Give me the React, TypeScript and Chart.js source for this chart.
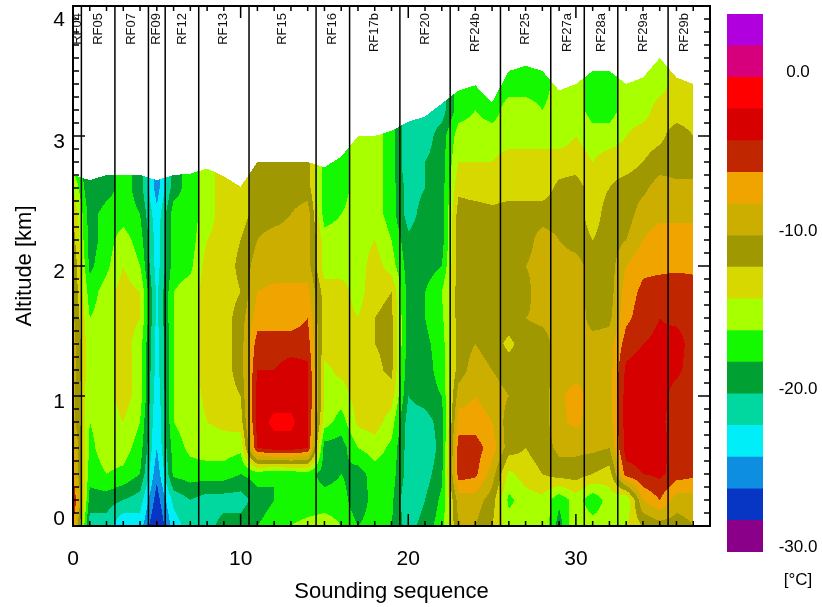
import React, { useEffect, useRef } from "react";
import { Chart, registerables } from "chart.js";
Chart.register(...registerables);

// ---------- data ----------
const soundings = [0, 1, 2, 3, 4, 5, 6, 7, 8, 9, 10, 11, 12, 13, 14, 15, 16, 17, 18, 19, 20, 21, 22, 23, 24, 25, 26, 27, 28, 29, 30, 31, 32, 33, 34, 35, 36, 37];
const altitudes = [0, 0.2, 0.4, 0.6, 0.8, 1.0, 1.2, 1.4, 1.6, 1.8, 2.0, 2.2, 2.4, 2.6, 2.8, 3.0, 3.2, 3.4, 3.6];
// top of each sounding (km)
const dataTopKm = [2.7, 2.66, 2.7, 2.7, 2.7, 2.66, 2.7, 2.71, 2.75, 2.69, 2.61, 2.8, 2.8, 2.8, 2.8, 2.76, 2.84, 3.0, 3.0, 3.04, 3.11, 3.15, 3.25, 3.35, 3.39, 3.26, 3.5, 3.54, 3.5, 3.35, 3.4, 3.5, 3.5, 3.4, 3.45, 3.6, 3.45, 3.4];
// temperature (°C) per sounding, from 0 km upward every 0.2 km
const tempProfiles: number[][] = [
  [-6, -3, -7, -7, -9, -9, -9, -9, -9.5, -10, -10, -11, -12, -14, -17],
  [-21, -19, -17, -16.5, -16, -16, -15.5, -15.5, -16, -17, -18.5, -19, -19, -20, -20],
  [-21, -19, -16, -15, -15, -15, -15, -15, -15, -15, -16.5, -17, -17, -19, -19],
  [-24, -20, -16.5, -15, -14, -13, -13, -13, -13, -13, -14, -15, -17, -17, -17],
  [-23, -21, -18, -17, -16, -15, -15, -15, -14, -14, -16, -17, -18, -19, -19],
  [-28.5, -27, -25.5, -24, -24, -23.5, -23, -23, -22.5, -22.5, -23, -23, -23.5, -25, -25],
  [-23, -21.5, -17.5, -17, -16, -16, -16, -16, -16, -16, -17, -17, -17, -19, -19],
  [-21, -20, -17, -15.5, -15, -15, -15, -15, -15, -15, -16.5, -17, -17, -17, -17],
  [-21, -21, -17, -15, -14, -13.5, -13, -13, -13, -13, -13, -14, -15, -15, -15],
  [-19, -21, -17, -15, -13.5, -13, -13, -13, -13, -13, -13, -13, -13, -13, -13],
  [-19, -21, -18, -15.5, -13, -12, -11, -11, -11, -12, -11.5, -12, -13, -13, -13],
  [-18, -19, -17, -4, -3, -3, -4, -5, -7, -8, -9, -10, -11, -11, -11],
  [-17, -18, -18, -3, -1.5, -3, -4, -5, -7, -7.5, -9, -9, -11, -11, -11],
  [-16, -17, -17.5, -3, -1.5, -3, -3, -5, -7, -7.5, -9, -9, -10, -11, -11],
  [-15.5, -17, -17, -4, -3.5, -3.5, -3.5, -5, -6, -7.5, -9, -9, -9, -11, -11],
  [-15, -17, -19, -19, -15, -14, -14.5, -13, -13, -13, -15, -15, -17, -17, -17],
  [-16, -17, -18, -19, -17, -15, -13.5, -13, -13, -13, -15, -15, -16, -17, -17, -17],
  [-18, -19.5, -19, -16, -13.5, -13, -13, -13, -14, -15, -15, -15, -15, -15, -15, -15],
  [-17, -17, -17, -15, -13, -13, -12.5, -12, -12, -12.5, -13, -14, -15, -15, -15, -15],
  [-18, -17.5, -17, -16.5, -15, -13, -11.5, -11.5, -11.5, -12, -15, -16, -17, -17, -17, -17, -17],
  [-21, -22, -21, -21, -21, -20, -19.5, -19, -19, -19, -19, -19.5, -21, -21, -22, -22, -21],
  [-19, -20, -21, -22, -21, -19, -19, -18.5, -18, -18, -19, -19, -19, -20, -20, -21, -21],
  [-17, -17.5, -18.5, -19, -19, -18, -17, -17, -16.5, -16, -18, -19, -19, -19, -19, -19, -21, -21],
  [-10, -9, -5, -5, -7, -9, -11, -11, -11, -11, -11, -11, -11, -12.5, -14, -15, -17, -17],
  [-10, -9, -5.5, -5, -7, -8, -9, -10, -11, -11, -10, -11, -11, -13, -14, -15, -16, -17],
  [-12, -11, -9, -7, -8, -9, -10, -11, -11, -11, -10.5, -11, -11.5, -13, -14, -15, -17, -17],
  [-15, -16.5, -14.5, -11, -11, -10, -11, -12.5, -11, -11, -11, -11, -11, -13, -13, -15, -15, -17, -17],
  [-15, -15, -13, -12, -11, -11, -11, -11, -10, -11, -10, -11, -11, -13, -13, -15, -15, -17, -17],
  [-14, -14.5, -12, -11, -11, -11, -11, -11, -9.5, -8, -9, -9, -11, -13, -13, -15, -16, -17, -17],
  [-19, -17.5, -11, -9.5, -8.5, -8.5, -9, -9, -9, -9, -9, -10, -11, -11.5, -13, -15, -15, -15],
  [-14, -15, -11, -9.5, -7.5, -7, -9, -9, -8.5, -9, -9, -11, -11, -11, -13, -14, -15, -15],
  [-15, -17.5, -12, -9.5, -9, -9, -9, -9, -11, -11, -11, -12, -13, -13, -14, -15, -17, -17, -17],
  [-15, -15, -13, -10, -9, -9, -9, -9, -10.5, -11, -11, -11, -11, -12, -13, -15, -17, -17, -17],
  [-14, -16, -5, -3, -3, -3, -3.5, -5, -6.5, -7, -8, -10, -11, -11, -13, -14, -15, -15],
  [-12, -8, -4, -3, -3, -3, -3, -4, -5, -5.5, -6.5, -8, -9, -10.5, -12, -13, -15, -15, -15],
  [-11, -6, -3.5, -3, -3.5, -3, -3, -3.5, -4, -5, -6.5, -7, -8.5, -9, -11, -12.5, -13, -15, -15],
  [-11, -9, -5, -5, -5, -5, -3.5, -3, -4.5, -4.5, -6.5, -7, -8.5, -9.5, -11, -11, -13, -13, -13],
  [-10, -9, -5.5, -5, -5, -5, -5, -5, -5, -5, -6.5, -7, -8.5, -9.5, -11, -12, -13, -14, -14],
];
const flightNames = ["RF04", "RF05", "RF07", "RF09", "RF12", "RF13", "RF15", "RF16", "RF17b", "RF20", "RF24b", "RF25", "RF27a", "RF28a", "RF29a", "RF29b"];
const flightEdges = [0, 0.5, 2.5, 4.5, 5.5, 7.5, 10.5, 14.5, 16.5, 19.5, 22.5, 25.5, 28.5, 30.5, 32.5, 35.5, 37.5];
const xTicks = [0, 10, 20, 30];
const yTicks = [0, 1, 2, 3, 4];
const xRange = [0, 38];
const bandEdges = [-30, -28, -26, -24, -22, -20, -18, -16, -14, -12, -10, -8, -6, -4, -2, 0, 2, 4];
const bandColors = ["#8a0088", "#0836c4", "#0e8ee0", "#00eef8", "#00d8a0", "#00a032", "#14f800", "#a8ff00", "#d6d800", "#a09800", "#ccae00", "#f0a400", "#c02600", "#d60000", "#ff0000", "#d6007c", "#b000de"];
const colorbarLabels = [0, -10, -20, -30];
const colorbarUnit = "[°C]";
const xTitle = "Sounding sequence";
const yTitle = "Altitude [km]";

const FONT = '"Liberation Sans", Arial, Helvetica, sans-serif';

function hexToRgb(h: string) {
  const n = parseInt(h.slice(1), 16);
  return [(n >> 16) & 255, (n >> 8) & 255, n & 255];
}

function profileValue(i: number, j: number) {
  const p = tempProfiles[i];
  return p[Math.min(j, p.length - 1)];
}

const heatmapPlugin = {
  id: "heatmap",
  beforeDatasetsDraw(chart: any) {
    const ctx = chart.ctx;
    const xs = chart.scales.x;
    const ys = chart.scales.y;
    const left = Math.floor(xs.getPixelForValue(soundings[0]));
    const right = Math.ceil(xs.getPixelForValue(soundings[soundings.length - 1]));
    const top = Math.floor(ys.getPixelForValue(Math.max(...dataTopKm)));
    const bottom = Math.ceil(ys.getPixelForValue(altitudes[0]));
    const w = right - left;
    const h = bottom - top;
    const off = document.createElement("canvas");
    off.width = w;
    off.height = h;
    const octx = off.getContext("2d")!;
    const img = octx.createImageData(w, h);
    const rgb = bandColors.map(hexToRgb);
    const colI: number[] = [], colF: number[] = [], colTop: number[] = [], colOk: boolean[] = [];
    for (let px = 0; px < w; px++) {
      const sx = xs.getValueForPixel(left + px + 0.5);
      let i = 0;
      while (i < soundings.length - 2 && sx > soundings[i + 1]) i++;
      const f = (sx - soundings[i]) / (soundings[i + 1] - soundings[i]);
      colOk.push(f >= 0 && f <= 1);
      const fc = Math.max(0, Math.min(1, f));
      colI.push(i);
      colF.push(fc);
      colTop.push(dataTopKm[i] * (1 - fc) + dataTopKm[i + 1] * fc);
    }
    for (let py = 0; py < h; py++) {
      const alt = ys.getValueForPixel(top + py + 0.5);
      if (alt < altitudes[0]) continue;
      let j = 0;
      while (j < altitudes.length - 2 && alt > altitudes[j + 1]) j++;
      const fy = Math.max(0, Math.min(1, (alt - altitudes[j]) / (altitudes[j + 1] - altitudes[j])));
      for (let px = 0; px < w; px++) {
        if (!colOk[px] || alt > colTop[px]) continue;
        const i = colI[px];
        const fx = colF[px];
        const v0 = profileValue(i, j) * (1 - fx) + profileValue(i + 1, j) * fx;
        const v1 = profileValue(i, j + 1) * (1 - fx) + profileValue(i + 1, j + 1) * fx;
        const v = v0 * (1 - fy) + v1 * fy;
        let b = 0;
        while (b < bandColors.length - 1 && v >= bandEdges[b + 1]) b++;
        const c = rgb[b];
        const k = (py * w + px) * 4;
        img.data[k] = c[0];
        img.data[k + 1] = c[1];
        img.data[k + 2] = c[2];
        img.data[k + 3] = 255;
      }
    }
    octx.putImageData(img, 0, 0);
    ctx.drawImage(off, left, top);
  },
};

const axesPlugin = {
  id: "axesDecor",
  afterDatasetsDraw(chart: any) {
    const ctx = chart.ctx;
    const xs = chart.scales.x;
    const ys = chart.scales.y;
    const a = chart.chartArea;
    ctx.save();
    ctx.strokeStyle = "#000";
    ctx.fillStyle = "#000";
    // ticks
    ctx.lineWidth = 1.5;
    ctx.beginPath();
    for (let v = xRange[0]; v <= xRange[1]; v += 1) {
      const px = xs.getPixelForValue(v);
      const len = v % 10 === 0 ? 12 : 5;
      ctx.moveTo(px, a.bottom);
      ctx.lineTo(px, a.bottom - len);
      ctx.moveTo(px, a.top);
      ctx.lineTo(px, a.top + len);
    }
    const yMin = yTicks[0], yMax = yTicks[yTicks.length - 1];
    for (let k = 0; k <= Math.round((yMax - yMin) * 10); k++) {
      const v = yMin + k / 10;
      const py = ys.getPixelForValue(v);
      const len = k % 10 === 0 ? 12 : 6;
      ctx.moveTo(a.left, py);
      ctx.lineTo(a.left + len, py);
      ctx.moveTo(a.right, py);
      ctx.lineTo(a.right - len, py);
    }
    ctx.stroke();
    // frame
    ctx.lineWidth = 2;
    ctx.strokeRect(a.left, a.top, a.right - a.left, a.bottom - a.top);
    // tick labels
    ctx.font = `21px ${FONT}`;
    ctx.textAlign = "center";
    ctx.textBaseline = "alphabetic";
    xTicks.forEach((v) => ctx.fillText(String(v), xs.getPixelForValue(v), a.bottom + 39));
    ctx.textAlign = "right";
    yTicks.forEach((v) => {
      const py = ys.getPixelForValue(v);
      const base = Math.min(Math.max(py + 11.5, a.top + 20), a.bottom - 1);
      ctx.fillText(String(v), a.left - 8, base);
    });
    // titles
    ctx.font = `22px ${FONT}`;
    ctx.textAlign = "center";
    ctx.fillText(xTitle, (a.left + a.right) / 2, 598);
    ctx.save();
    ctx.translate(31, (a.top + a.bottom) / 2);
    ctx.rotate(-Math.PI / 2);
    ctx.fillText(yTitle, 0, 0);
    ctx.restore();
    // flight labels
    ctx.font = `13px ${FONT}`;
    ctx.fillStyle = "#111";
    ctx.textAlign = "right";
    ctx.textBaseline = "middle";
    flightNames.forEach((name, k) => {
      const cx = xs.getPixelForValue((flightEdges[k] + flightEdges[k + 1]) / 2);
      ctx.save();
      ctx.translate(cx, a.top + 7);
      ctx.rotate(-Math.PI / 2);
      ctx.fillText(name, 0, 0);
      ctx.restore();
    });
    ctx.restore();
  },
};

const colorbarPlugin = {
  id: "cbLabels",
  afterDraw(chart: any) {
    const ctx = chart.ctx;
    const ys = chart.scales.y;
    const a = chart.chartArea;
    const cx = a.right + 35;
    ctx.save();
    ctx.fillStyle = "#000";
    ctx.font = `17px ${FONT}`;
    ctx.textAlign = "center";
    ctx.textBaseline = "alphabetic";
    colorbarLabels.forEach((v) => ctx.fillText(v.toFixed(1), cx, ys.getPixelForValue(v)));
    ctx.fillText(colorbarUnit, cx, a.bottom + 33);
    ctx.restore();
  },
};

export default function App() {
  const mainRef = useRef<HTMLCanvasElement>(null);
  const cbRef = useRef<HTMLCanvasElement>(null);

  useEffect(() => {
    const separators = flightEdges.slice(1, -1).map((b) => ({
      data: [
        { x: b, y: yTicks[0] },
        { x: b, y: yTicks[yTicks.length - 1] },
      ],
      borderColor: "#000",
      borderWidth: 1.5,
      pointRadius: 0,
      fill: false,
    }));
    const main = new Chart(mainRef.current!, {
      type: "line",
      data: { datasets: separators as any },
      options: {
        responsive: false,
        animation: false,
        layout: { padding: { left: 73, top: 6, right: 112, bottom: 81 } },
        plugins: { legend: { display: false }, tooltip: { enabled: false } },
        events: [],
        scales: {
          x: { type: "linear", display: false, min: xRange[0], max: xRange[1] },
          y: { type: "linear", display: false, min: yTicks[0], max: yTicks[yTicks.length - 1] },
        },
      },
      plugins: [heatmapPlugin, axesPlugin],
    });

    const cb = new Chart(cbRef.current!, {
      type: "bar",
      data: {
        labels: [""],
        datasets: bandColors.map((c, k) => ({
          data: [[bandEdges[k], bandEdges[k + 1]]],
          backgroundColor: c,
          borderWidth: 0,
          grouped: false,
          barPercentage: 1,
          categoryPercentage: 1,
        })) as any,
      },
      options: {
        responsive: false,
        animation: false,
        layout: { padding: { left: 7, right: 59, top: 14, bottom: 55 } },
        plugins: { legend: { display: false }, tooltip: { enabled: false } },
        events: [],
        scales: {
          x: { display: false },
          y: { display: false, min: bandEdges[0], max: bandEdges[bandEdges.length - 1] },
        },
      },
      plugins: [colorbarPlugin],
    });

    return () => {
      main.destroy();
      cb.destroy();
    };
  }, []);

  return (
    <div style={{ position: "fixed", left: 0, top: 0, width: 822, height: 607, background: "#fff" }}>
      <canvas ref={mainRef} width={822} height={607} style={{ position: "absolute", left: 0, top: 0 }} />
      <canvas ref={cbRef} width={102} height={607} style={{ position: "absolute", left: 720, top: 0 }} />
    </div>
  );
}
